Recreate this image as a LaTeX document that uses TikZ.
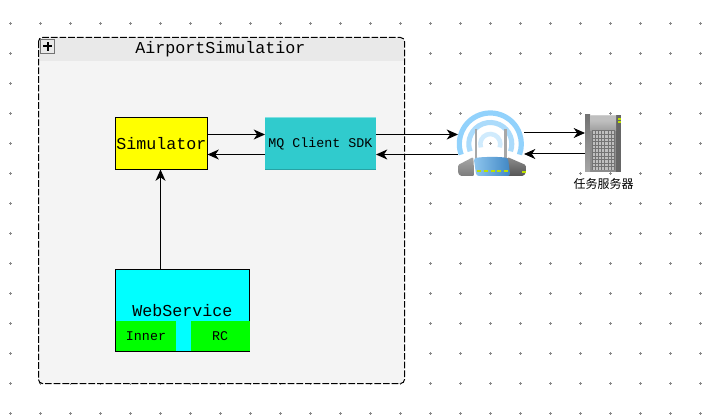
\documentclass[tikz,border=0pt]{standalone}
\usepackage{fontspec}
\setmainfont{Liberation Mono}
\newfontfamily\cjkfont{Noto Sans CJK SC}
\usetikzlibrary{arrows.meta,calc}
\definecolor{gridgray}{HTML}{8A8A8A}
\definecolor{hdr}{HTML}{E9E9E9}
\definecolor{bodybg}{HTML}{F4F4F4}
\definecolor{mqfill}{HTML}{30CBCD}
\definecolor{pureyellow}{HTML}{FFFF00}
\definecolor{purecyan}{HTML}{00FFFF}
\definecolor{puregreen}{HTML}{00FF00}
\definecolor{arcA}{HTML}{92D2FC}
\definecolor{arcB}{HTML}{ABDBFB}
\definecolor{arcC}{HTML}{D0EBFD}
\definecolor{led}{HTML}{BCE000}
\definecolor{blueL}{HTML}{8FC6EE}
\definecolor{blueR}{HTML}{3F86C4}
\definecolor{grayA}{HTML}{A8A8A8}
\definecolor{grayB}{HTML}{7C7C7C}
\definecolor{grayC}{HTML}{8C8C8C}
\definecolor{grayD}{HTML}{555555}
\tikzset{
  x=0.75pt,y=-0.75pt,
  lbl/.style={font=\fontsize{12.5pt}{14pt}\selectfont,inner sep=0pt,text=black},
  lblsmall/.style={font=\fontsize{10pt}{12pt}\selectfont,inner sep=0pt,text=black},
  boxnode/.style={draw=black,line width=0.75pt,inner sep=0pt,outer sep=0pt,anchor=north west},
  flat/.style={inner sep=0pt,outer sep=0pt,anchor=north west},
  arr/.style={draw=black,line width=0.75pt,-{Stealth[length=8.5pt,width=7.5pt,inset=2.6pt]}},
}
\begin{document}
\begin{tikzpicture}
\useasboundingbox (0,0) rectangle (712,416);
\fill[white] (0,0) rectangle (712,416);
% grid
\foreach \gx in {10.5,40.5,...,700.5}{
  \foreach \gy in {23.5,53.5,...,413.5}{
    \draw[gridgray,line width=0.4pt] (\gx-1.5,\gy)--(\gx+1.5,\gy) (\gx,\gy-1.5)--(\gx,\gy+1.5);
  }
}
% container
\begin{scope}
  \path[clip,rounded corners=3pt] (38.5,37.5) rectangle (404.5,383.5);
  \fill[bodybg] (38,37) rectangle (405,384);
  \fill[hdr] (38,37) rectangle (405,61);
\end{scope}
\node[inner sep=0pt,outer sep=0pt,minimum width=366*0.75pt,minimum height=346*0.75pt,anchor=north west] (cont) at (38.5,37.5) {};
\draw[black,line width=0.75pt,dash pattern=on 5pt off 1.5pt,rounded corners=3pt] (38.5,37.5) rectangle (404.5,383.5);
\node[lbl] (title) at (220.5,49.5) {AirportSimulatior};
% plus box
\node[flat,draw=black!55,fill=hdr,line width=0.75pt,minimum width=14*0.75pt,minimum height=14*0.75pt] (plus) at (40.5,39.5) {};
\fill[black] ($(plus.center)+(-4.5,-1)$) rectangle ($(plus.center)+(4.5,1)$);
\fill[black] ($(plus.center)+(-1,-4.5)$) rectangle ($(plus.center)+(1,4.5)$);
% boxes
\node[boxnode,fill=pureyellow,minimum width=92*0.75pt,minimum height=52*0.75pt] (sim) at (115.5,117.5) {};
\node[lbl] at (sim.center) {Simulator};
\node[flat,fill=mqfill,minimum width=111*0.75pt,minimum height=53*0.75pt] (mq) at (265,117) {};
\draw[mqfill!60!white,line width=0.75pt] (265,117.5)--(376,117.5);
\draw[mqfill!80!black,line width=0.75pt] (265,169.5)--(376,169.5);
\node[lblsmall] at (mq.center) {MQ Client SDK};
\node[boxnode,fill=purecyan,minimum width=134*0.75pt,minimum height=82*0.75pt] (web) at (115.5,269.5) {};
\node[flat,fill=puregreen,minimum width=60*0.75pt,minimum height=30*0.75pt] (inner) at (115.5,321) {};
\node[flat,fill=puregreen,minimum width=59.5*0.75pt,minimum height=30*0.75pt] (rc) at (190.5,321) {};
\draw[black,line width=0.75pt] (115.5,321)--(115.5,351.5)--(250,351.5);
\node[lbl] at (182.5,311) {WebService};
\node[lblsmall] at (146,336.5) {Inner};
\node[lblsmall] at (220,336.5) {RC};
% router
\node[inner sep=0pt,outer sep=0pt,minimum width=66*0.75pt,minimum height=67*0.75pt] (router) at (491,143.5) {};
\begin{scope}[shift={(490.3,144)}]
  \draw[arcA,line width=3.9pt] (-29.1,10.6) arc[start angle=200,end angle=-20,x radius=31,y radius=-31];
  \draw[arcB,line width=3.8pt] (-20.2,7.35) arc[start angle=200,end angle=-20,x radius=21.5,y radius=-21.5];
  \draw[arcC,line width=3.4pt] (-9.4,3.42) arc[start angle=200,end angle=-20,x radius=10,y radius=-10];
  \draw[gridgray,line width=0.4pt] (-1.3,-0.5)--(1.7,-0.5) (0.2,-2)--(0.2,1);
  \draw[grayA,line width=2.2pt] (-14.3,-15)--(-14.3,15);
  \draw[grayA,line width=2.2pt] (15,-15)--(15,15);
  \shade[top color=grayA,bottom color=grayB,rounded corners=1pt] (-32.3,21)--(-17,13)--(-16,32)--(-30,32)--(-32.3,29)--cycle;
  \shade[top color=grayC,bottom color=grayD,rounded corners=1pt] (17,13)--(35.5,21)--(35.5,29)--(33,32)--(17,32)--cycle;
  \shade[left color=blueL,right color=blueR,rounded corners=2pt] (-16.6,14)--(-6,13)--(10,13)--(17.7,14)--(20,32)--(-14,32)--cycle;
  \foreach \dx in {-13,-6.3,0.4,7,13.5}{\fill[led] (\dx,26) rectangle (\dx+4,28);}
  \fill[led] (32,27.5) rectangle (35.5,28.8);
\end{scope}
% server
\node[inner sep=0pt,outer sep=0pt,minimum width=36*0.75pt,minimum height=57*0.75pt,anchor=north west] (srv) at (585,115) {};
\fill[black!45] (585,115) rectangle (621,172);
\shade[top color=black!55,bottom color=black!35] (585,115) rectangle (590,172);
\fill[black!60] (616,115) rectangle (621,172);
\shade[top color=black!20,bottom color=black!38] (590,116) rectangle (616,131);
\fill[black!25] (590,116) rectangle (616,121);
\fill[black!55] (591.5,130.5) rectangle (615,170.5);
\foreach \ii in {0,...,6}{
  \foreach \jj in {0,...,10}{
    \fill[black!25] (592.5+\ii*3.2,131.5+\jj*3.6) rectangle ++(2.2,2.5);
  }
}
\fill[led] (617.5,118) rectangle (621,120);
\fill[led] (617.5,121.5) rectangle (621,123.5);
\node[inner sep=0pt,font=\cjkfont\fontsize{9pt}{11pt}\selectfont] (srvlbl) at (603.5,184) {任务服务器};
% connectors
\coordinate (simin) at ($(sim.south)+(-1,0)$);
\draw[arr] ($(sim.east)+(0,-9)$) -- ($(mq.west)+(0,-9)$);
\draw[arr] ($(mq.west)+(0,11)$) -- ($(sim.east)+(0,11)$);
\draw[arr] (simin |- web.north) -- (simin);
\draw[arr] ($(mq.east)+(0,-9)$) -- ($(router.west)+(0,-9)$);
\draw[arr] ($(router.west)+(0,11)$) -- ($(mq.east)+(0,11)$);
\draw[arr] ($(router.east)+(0,-10.5)$) -- ($(srv.west)+(0,-10.5)$);
\draw[arr] ($(srv.west)+(0,10.5)$) -- ($(router.east)+(0,10.5)$);
\end{tikzpicture}
\end{document}
